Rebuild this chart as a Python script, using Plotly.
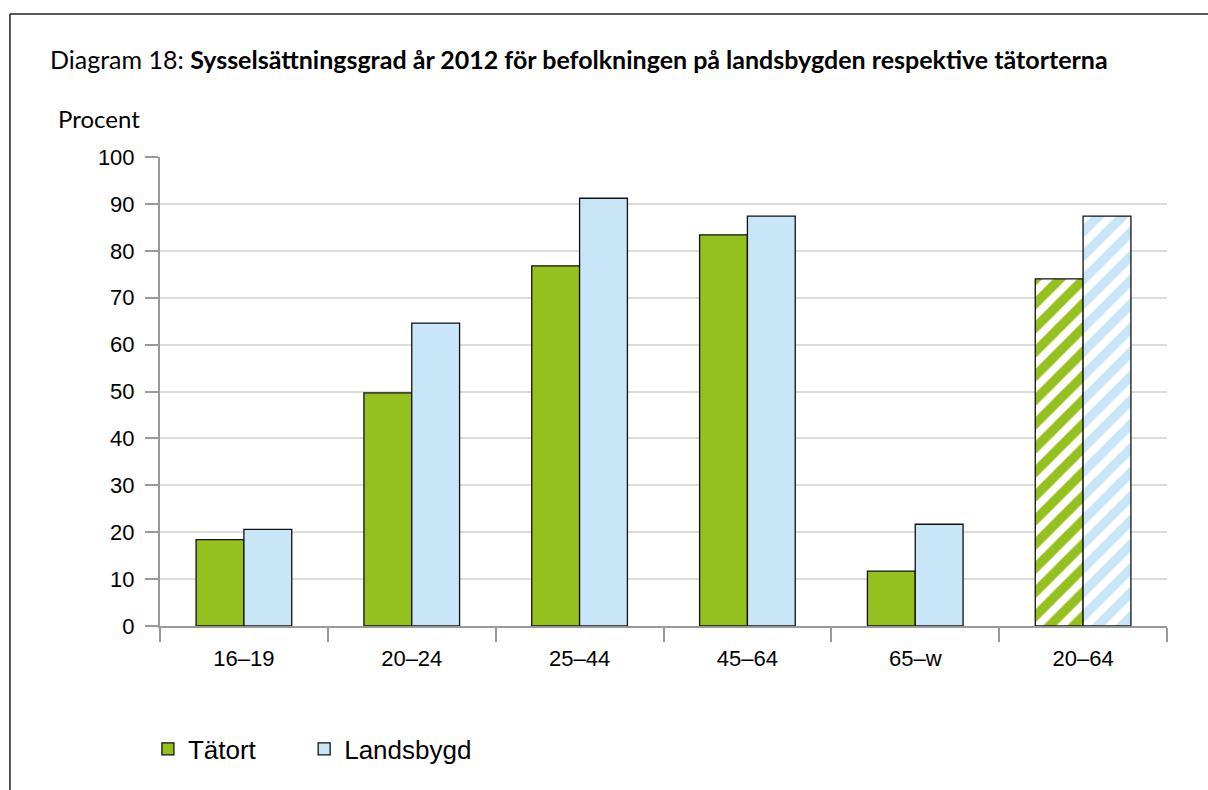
import plotly.graph_objects as go

categories = ["16–19", "20–24", "25–44", "45–64", "65–w", "20–64"]
tatort = [18.4, 49.7, 76.8, 83.4, 11.7, 74.0]
landsbygd = [20.6, 64.6, 91.2, 87.4, 21.7, 87.4]
hatched = ["", "", "", "", "", "/"]

GREEN = "#95c11f"
BLUE = "#c9e6f8"

fig = go.Figure()
# trailing non-break spaces widen the gap between the two legend items
fig.add_bar(x=categories, y=tatort, name="Tätort" + "\u00a0" * 6,
            marker=dict(color=GREEN, line=dict(color="#111", width=1.3),
                        pattern=dict(shape=hatched, fgcolor="white", bgcolor=GREEN,
                                     size=17, solidity=0.45, fgopacity=1)))
fig.add_bar(x=categories, y=landsbygd, name="Landsbygd",
            marker=dict(color=BLUE, line=dict(color="#111", width=1.3),
                        pattern=dict(shape=hatched, fgcolor="white", bgcolor=BLUE,
                                     size=17, solidity=0.45, fgopacity=1)))

fig.update_layout(
    width=1208, height=790,
    margin=dict(l=160, r=41, t=157, b=164),
    paper_bgcolor="white", plot_bgcolor="white",
    barmode="group", bargap=0.43, bargroupgap=0,
    font=dict(family="Liberation Sans, Arial", size=22, color="black"),
    showlegend=True,
    legend=dict(orientation="h", x=-0.012, xanchor="left", y=-0.262, yanchor="middle",
                font=dict(size=26), itemwidth=30, tracegroupgap=0),
)
fig.update_xaxes(showline=True, linecolor="#999", linewidth=2,
                 ticks="outside", tickson="boundaries", ticklen=14, tickcolor="#999", tickwidth=2,
                 ticklabelstandoff=12, showgrid=False)
fig.update_yaxes(range=[0, 100], dtick=10, showline=True, linecolor="#999", linewidth=2,
                 ticks="outside", ticklen=13, tickcolor="#999", tickwidth=2,
                 ticklabelstandoff=6, gridcolor="#dcdcdc", gridwidth=2, zeroline=False)

# title and y-axis label
fig.add_annotation(xref="paper", yref="paper", x=-0.111, y=1.21, xanchor="left", yanchor="middle",
                   text="Diagram 18: <b>Sysselsättningsgrad år 2012 för befolkningen på landsbygden respektive tätorterna</b>",
                   showarrow=False, font=dict(family="Lato, Noto Sans", size=25))
fig.add_annotation(xref="paper", yref="paper", x=-0.018, y=1.083, xanchor="right", yanchor="middle",
                   text="Procent", showarrow=False, font=dict(family="Lato, Noto Sans", size=24))

# frame around the chart
fig.add_shape(type="line", xref="paper", yref="paper", x0=-0.149, x1=1.1, y0=1.305, y1=1.305,
              line=dict(color="#222", width=1.5))
fig.add_shape(type="line", xref="paper", yref="paper", x0=-0.149, x1=-0.149, y0=1.305, y1=-0.36,
              line=dict(color="#222", width=1.5))

# drop the default page margin so the figure fills the window
fig.write_html("out.html", config={"displayModeBar": False},
               post_script="document.body.style.margin='0';document.body.style.overflow='hidden';")
